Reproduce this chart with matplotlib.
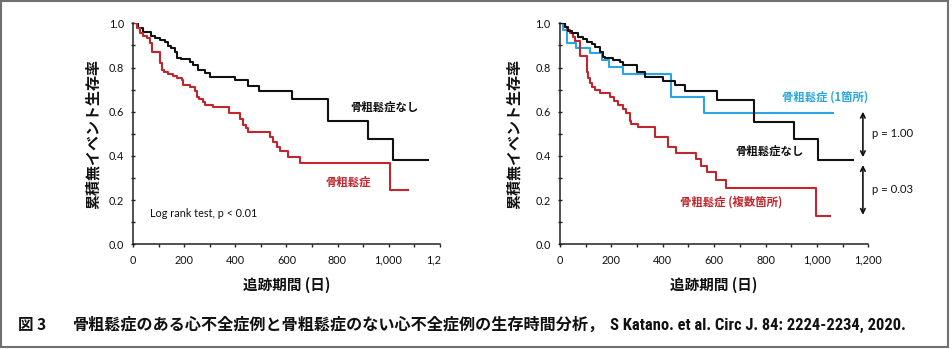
import matplotlib
matplotlib.use("Agg")
import matplotlib.pyplot as plt
from matplotlib.patches import Rectangle
from matplotlib.ticker import FuncFormatter, MultipleLocator

# ---------------- data ----------------
# Left panel
left_none_t = [0, 18, 38, 71, 84, 103, 123, 136, 146, 162, 172, 186, 221, 234, 253, 280, 299, 397, 450, 493, 621, 762, 920, 1017, 1154]
left_none_s = [1.0, 0.977, 0.959, 0.944, 0.932, 0.925, 0.914, 0.899, 0.887, 0.872, 0.845, 0.839, 0.827, 0.812, 0.79, 0.777, 0.758, 0.743, 0.718, 0.694, 0.656, 0.559, 0.476, 0.382, 0.382]

left_osteo_t = [0, 15, 26, 39, 52, 65, 72, 105, 112, 120, 137, 157, 170, 190, 196, 222, 242, 248, 259, 275, 281, 314, 373, 418, 431, 440, 451, 536, 549, 562, 575, 608, 654, 1006, 1076]
left_osteo_s = [1.0, 0.977, 0.955, 0.943, 0.932, 0.912, 0.869, 0.82, 0.789, 0.78, 0.77, 0.762, 0.751, 0.744, 0.72, 0.71, 0.695, 0.668, 0.658, 0.643, 0.63, 0.623, 0.593, 0.566, 0.54, 0.525, 0.507, 0.487, 0.465, 0.442, 0.42, 0.397, 0.37, 0.246, 0.246]

# Right panel
right_none_t = [0, 19, 32, 45, 71, 91, 104, 123, 136, 156, 166, 175, 208, 234, 247, 299, 331, 402, 448, 487, 613, 755, 910, 1006, 1139]
right_none_s = [1.0, 0.985, 0.967, 0.958, 0.939, 0.928, 0.917, 0.906, 0.891, 0.872, 0.849, 0.842, 0.834, 0.826, 0.811, 0.781, 0.758, 0.74, 0.721, 0.695, 0.655, 0.555, 0.475, 0.38, 0.38]

right_single_t = [0, 12, 26, 62, 116, 165, 191, 246, 433, 562, 1062]
right_single_s = [1.0, 0.97, 0.912, 0.887, 0.864, 0.834, 0.804, 0.77, 0.668, 0.593, 0.593]

right_multi_t = [0, 19, 26, 39, 52, 58, 78, 104, 110, 117, 123, 136, 156, 195, 210, 226, 245, 258, 271, 277, 303, 368, 420, 452, 530, 550, 574, 606, 648, 997, 1051]
right_multi_s = [1.0, 0.985, 0.97, 0.955, 0.94, 0.92, 0.85, 0.78, 0.751, 0.729, 0.713, 0.698, 0.686, 0.668, 0.65, 0.63, 0.612, 0.596, 0.56, 0.545, 0.53, 0.487, 0.442, 0.412, 0.385, 0.356, 0.329, 0.291, 0.253, 0.128, 0.128]

x_ticks = [0, 200, 400, 600, 800, 1000, 1200]
y_ticks = [0.0, 0.2, 0.4, 0.6, 0.8, 1.0]

xlabel = "追跡期間 (日)"
ylabel = "累積無イベント生存率"
label_none = "骨粗鬆症なし"
label_osteo = "骨粗鬆症"
label_single = "骨粗鬆症 (1箇所)"
label_multi = "骨粗鬆症 (複数箇所)"
logrank_text = "Log rank test, p < 0.01"
p_upper = "p = 1.00"
p_lower = "p = 0.03"
caption_head = "図 3"
caption_jp = "骨粗鬆症のある心不全症例と骨粗鬆症のない心不全症例の生存時間分析，"
caption_ref = "S Katano. et al. Circ J. 84: 2224-2234, 2020."

# ---------------- styling ----------------
RED = "#c0262d"
BLUE = "#2aa6df"
BLACK = "#111111"
CJK = ["Noto Sans CJK JP", "DejaVu Sans"]
NUMF = ["Lato", "DejaVu Sans"]
NARROW = ["Roboto Condensed", "Liberation Sans Narrow", "Roboto", "DejaVu Sans"]

W, H = 952, 349
fig = plt.figure(figsize=(W / 100, H / 100), dpi=100)


def px_axes(x0, x1, y_top, y_bot):
    return fig.add_axes([x0 / W, 1 - y_bot / H, (x1 - x0) / W, (y_bot - y_top) / H])


def style_axes(ax, ylabel_x):
    ax.set_xlim(0, 1200)
    ax.set_ylim(0, 1.0)
    for s in ["top", "right"]:
        ax.spines[s].set_visible(False)
    for s in ["left", "bottom"]:
        ax.spines[s].set_color("#222222")
        ax.spines[s].set_linewidth(1.1)
    ax.set_xticks(x_ticks)
    ax.set_yticks(y_ticks)
    ax.xaxis.set_minor_locator(MultipleLocator(100))
    ax.yaxis.set_minor_locator(MultipleLocator(0.1))
    ax.xaxis.set_major_formatter(FuncFormatter(lambda v, p: f"{int(v):,}"))
    ax.yaxis.set_major_formatter(FuncFormatter(lambda v, p: f"{v:.1f}"))
    ax.tick_params(axis="x", which="both", direction="out", length=2.5, width=1.0, color="#222222", pad=5)
    ax.tick_params(axis="y", which="both", direction="inout", length=3.5, width=1.0, color="#222222", pad=5)
    for lab in ax.get_xticklabels() + ax.get_yticklabels():
        lab.set_family(NUMF)
        lab.set_fontsize(7.8)
        lab.set_color("#111111")
    ax.text(0.5, -0.184, xlabel, transform=ax.transAxes, ha="center", va="center",
            family=CJK, fontweight="bold", fontsize=10.5, color="#111111")
    ax.text(ylabel_x, 0.5, ylabel, transform=ax.transAxes, ha="center", va="center",
            rotation=90, family=CJK, fontweight="bold", fontsize=10.8, color="#111111")


# Left panel
axL = px_axes(133.3, 439.6, 23.3, 244.3)
axL.step(left_none_t, left_none_s, where="post", color=BLACK, lw=1.5)
axL.step(left_osteo_t, left_osteo_s, where="post", color=RED, lw=1.5)
style_axes(axL, -0.1314)
axL.text(850, 0.62, label_none, ha="left", va="center", family=CJK, fontweight="bold", fontsize=8.2, color="#111111")
axL.text(752, 0.28, label_osteo, ha="left", va="center", family=CJK, fontweight="bold", fontsize=8.2, color=RED)
axL.text(66, 0.14, logrank_text, ha="left", va="center", family=NUMF, fontsize=7.8, color="#111111")

# Right panel
axR = px_axes(560, 868.3, 23.3, 244.3)
axR.step(right_none_t, right_none_s, where="post", color=BLACK, lw=1.5, zorder=3)
axR.step(right_single_t, right_single_s, where="post", color=BLUE, lw=1.5, zorder=2)
axR.step(right_multi_t, right_multi_s, where="post", color=RED, lw=1.5, zorder=2)
style_axes(axR, -0.151)
axR.text(864, 0.668, label_single, ha="left", va="center", family=CJK, fontweight="bold", fontsize=8.2, color=BLUE)
axR.text(682, 0.419, label_none, ha="left", va="center", family=CJK, fontweight="bold", fontsize=8.2, color="#111111")
axR.text(467, 0.19, label_multi, ha="left", va="center", family=CJK, fontweight="bold", fontsize=8.2, color=RED)
axR.annotate("", xy=(1179, 0.394), xytext=(1179, 0.60), annotation_clip=False,
             arrowprops=dict(arrowstyle="<->", color="#111111", lw=1.2, shrinkA=0, shrinkB=0, mutation_scale=8))
axR.annotate("", xy=(1179, 0.133), xytext=(1179, 0.359), annotation_clip=False,
             arrowprops=dict(arrowstyle="<->", color="#111111", lw=1.2, shrinkA=0, shrinkB=0, mutation_scale=8))
axR.text(1214, 0.502, p_upper, ha="left", va="center", family=NUMF, fontsize=8.2, color="#111111", clip_on=False)
axR.text(1214, 0.246, p_lower, ha="left", va="center", family=NUMF, fontsize=8.2, color="#111111", clip_on=False)

# white mask cutting the left "1,200" label as in the reference
fig.patches.append(Rectangle((440.5 / W, 1 - 272 / H), 40 / W, 22 / H, transform=fig.transFigure,
                             facecolor="white", edgecolor="none", zorder=5))

# caption
fig.text(18 / W, 1 - 325 / H, caption_head, ha="left", va="center",
         family=CJK, fontweight="bold", fontsize=11.2, color="#111111")
fig.text(73 / W, 1 - 325 / H, caption_jp, ha="left", va="center",
         family=CJK, fontweight="bold", fontsize=11.6, color="#111111")
fig.text(610 / W, 1 - 325 / H, caption_ref, ha="left", va="center",
         family=NARROW, fontweight="bold", fontsize=11.9, color="#111111")

# outer frame
fig.patches.append(Rectangle((1 / W, 2 / H), 947 / W, 346 / H, transform=fig.transFigure,
                             facecolor="none", edgecolor="#707070", lw=1.5, zorder=6))

fig.savefig("out.png", dpi=100)
